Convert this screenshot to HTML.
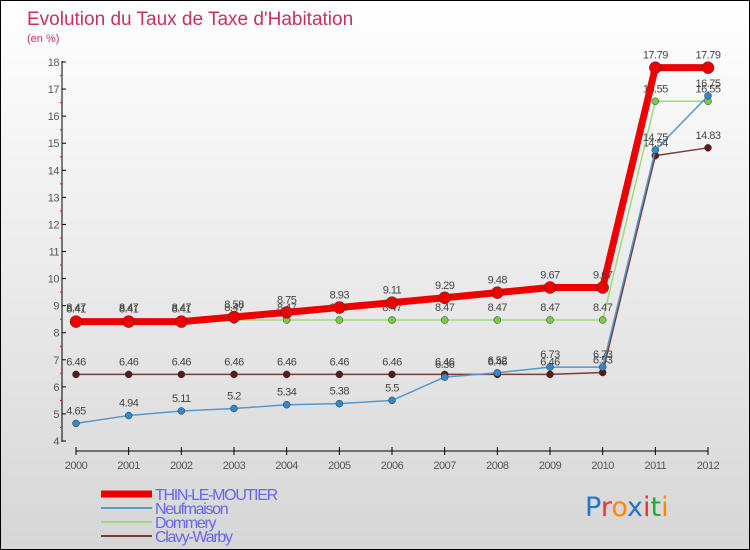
<!DOCTYPE html>
<html><head><meta charset="utf-8"><style>
body{margin:0}
#c{width:750px;height:550px;position:relative;overflow:hidden;box-sizing:border-box;border:1px solid #000;background:linear-gradient(#fff,#d6d6d6);font-family:"Liberation Sans",sans-serif}
</style></head><body>
<div id="c">
<svg id="s" width="750" height="550"></svg>
</div>
<script>
const years=[2000,2001,2002,2003,2004,2005,2006,2007,2008,2009,2010,2011,2012];
const thin=[8.41,8.41,8.41,8.58,8.75,8.93,9.11,9.29,9.48,9.67,9.67,17.79,17.79];
const neuf=[4.65,4.94,5.11,5.2,5.34,5.38,5.5,6.36,6.52,6.73,6.73,14.75,16.75];
const domm=[8.47,8.47,8.47,8.47,8.47,8.47,8.47,8.47,8.47,8.47,8.47,16.55,16.55];
const clavy=[6.46,6.46,6.46,6.46,6.46,6.46,6.46,6.46,6.46,6.46,6.53,14.54,14.83];
const yTicks=[4,5,6,7,8,9,10,11,12,13,14,15,16,17,18];
const NS="http://www.w3.org/2000/svg";
const s=document.getElementById('s');
const X=i=>75+i*(632/12);
const Y=v=>440-(v-4)*(379/14);
function el(t,a,txt){const e=document.createElementNS(NS,t);for(const k in a)e.setAttribute(k,a[k]);if(txt!==undefined)e.textContent=txt;s.appendChild(e);return e;}
let e;
e=el('text',{x:26,y:24,fill:'#c8305e','font-size':19},'Evolution du Taux de Taxe d\'Habitation');

e=el('text',{x:26,y:41,fill:'#c8305e','font-size':11},'(en %)');

e=el('line',{x1:61,y1:60,x2:61,y2:441,stroke:'#000'});

yTicks.forEach(v=>{
 e=el('line',{x1:61,y1:Y(v),x2:65,y2:Y(v),stroke:'#000'});
 
 if(v<18){e=el('line',{x1:59,y1:Y(v+0.5),x2:61,y2:Y(v+0.5),stroke:'#f00'});
 }
 e=el('text',{x:58,y:Y(v)+4,'text-anchor':'end','font-size':11,fill:'#555','letter-spacing':'-0.5'},v);
 
});
e=el('line',{x1:75,y1:450,x2:707,y2:450,stroke:'#000'});

years.forEach((y,i)=>{
 e=el('line',{x1:X(i),y1:446,x2:X(i),y2:454,stroke:'#000'});
 
 e=el('text',{x:X(i),y:468,'text-anchor':'middle','font-size':11,fill:'#555','letter-spacing':'-0.5'},y);
 
});
function series(d,col,w,r,dot,name){
 e=el('polyline',{points:d.map((v,i)=>X(i)+','+Y(v)).join(' '),fill:'none',stroke:col,'stroke-width':w,'stroke-linejoin':'round'});
 
 d.forEach((v,i)=>{
  e=el('circle',{cx:X(i),cy:Y(v),r:r,fill:dot,stroke:'#333','stroke-width':0.5});
  
  e=el('text',{x:X(i),y:Y(v)-9,'text-anchor':'middle','font-size':11,fill:'#444','letter-spacing':'-0.5'},v);
  
 });
}
series(clavy,'#7a3a3a',1.5,3.5,'#5a1a1a','clavy-warby');
series(domm,'#99dd77',1.5,3.5,'#77cc44','dommery');
series(neuf,'#5599cc',1.5,3.5,'#3388cc','neufmaison');
series(thin,'#ee0000',7,6,'#ee0000','thin-le-moutier');
const leg=[['THIN-LE-MOUTIER','#ee0000',7],['Neufmaison','#5599cc',2],['Dommery','#99dd77',2],['Clavy-Warby','#7a3a3a',2]];
leg.forEach((l,i)=>{
 const y=493+i*14;
 e=el('line',{x1:100,y1:y,x2:151,y2:y,stroke:l[1],'stroke-width':l[2]});
 
 e=el('text',{x:154,y:y+6,'font-size':16,fill:'#6666ee','letter-spacing':'-1.3'},l[0]);
 
});
e=el('text',{x:584,y:515,'font-size':27,'font-family':'"DejaVu Sans",sans-serif'});

[['P','#2277cc'],['r','#ee3333'],['o','#ff8800'],['x','#2277cc'],['i','#ee3333'],['t','#22aa33'],['i','#ff8800']].forEach(p=>{
 const t=document.createElementNS(NS,'tspan');t.setAttribute('fill',p[1]);t.textContent=p[0];e.appendChild(t);
});
</script>
</body></html>
